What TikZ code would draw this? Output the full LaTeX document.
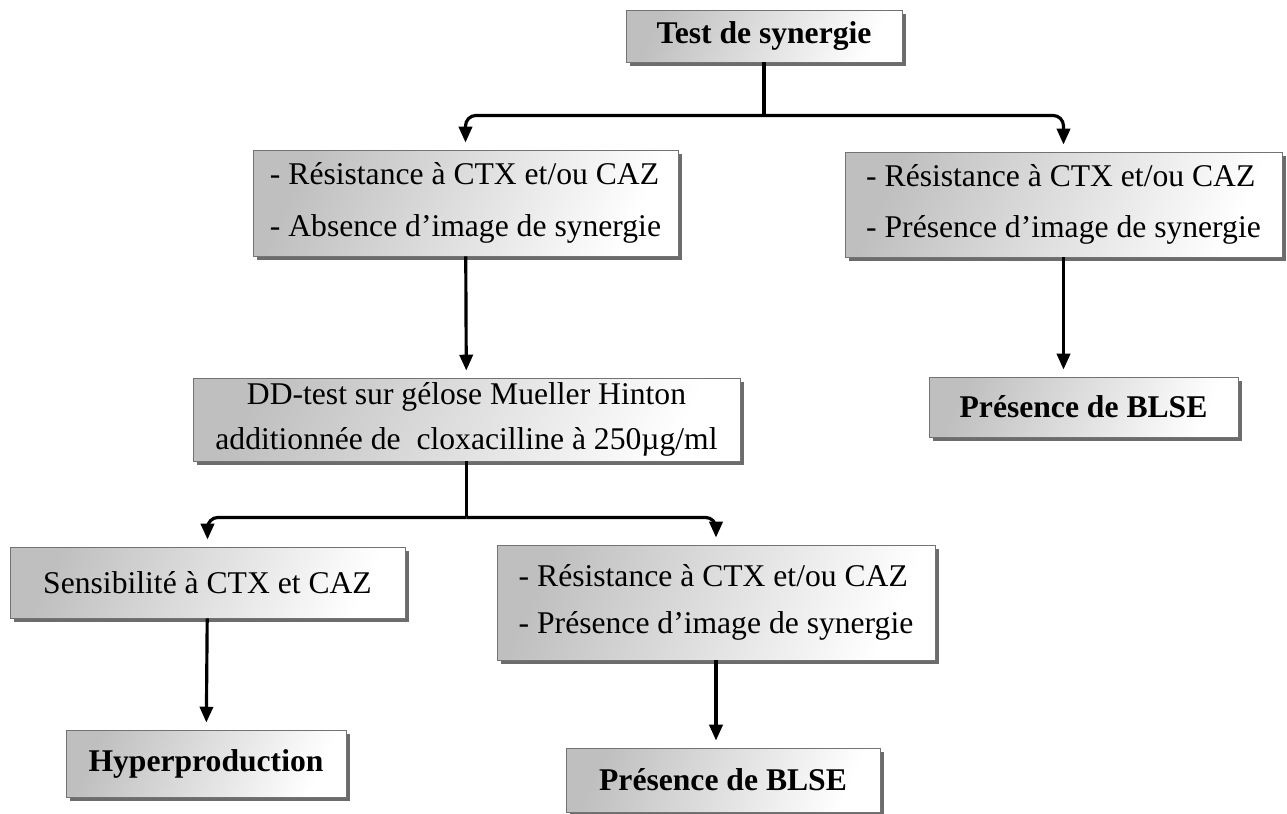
\documentclass[tikz,border=0pt]{standalone}
\usepackage{fontspec}
\setmainfont{Liberation Serif}
\usetikzlibrary{positioning, shadows, arrows.meta, calc}

\begin{document}
\begin{tikzpicture}[
    x=0.02cm, y=-0.02cm,
    % Styles
    box/.style={
        rectangle,
        draw=gray!90!black,
        line width=0.5pt,
        left color=gray!50,
        right color=white,
        shading angle=65,
        drop shadow={shadow xshift=2.2pt, shadow yshift=-2.2pt, fill=gray!85!black, opacity=1},
        inner sep=0pt,
        font=\fontsize{18}{22}\selectfont
    },
    title/.style={
        box,
        font=\fontsize{18}{22}\selectfont\bfseries
    },
    arrow/.style={
        -{Triangle[width=7.5pt, length=9pt]},
        line width=1.8pt,
        rounded corners=6pt,
        shorten >=4pt
    },
    line/.style={
        line width=1.8pt
    }
]
    \useasboundingbox (0,0) rectangle (1287,814);

    % Boxes
    \node[title, minimum width=5.52cm, minimum height=1.04cm] (test) at (764,36) {Test de synergie};
    \node[box, align=left, minimum width=8.5cm, minimum height=2.12cm,
          font=\fontsize{18}{29.5}\selectfont] (absence) at (465.5,203)
          {- Résistance à CTX et/ou CAZ\\- Absence d’image de synergie};
    \node[box, align=left, minimum width=8.74cm, minimum height=2.1cm,
          font=\fontsize{18}{29.5}\selectfont] (presence) at (1063.5,204.5)
          {- Résistance à CTX et/ou CAZ\\- Présence d’image de synergie};
    \node[box, align=center, minimum width=10.94cm, minimum height=1.66cm,
          font=\fontsize{18}{26}\selectfont] (ddtest) at (466.5,419.5)
          {DD-test sur gélose Mueller Hinton\\additionnée de\ \ cloxacilline à 250µg/ml};
    \node[title, minimum width=6.18cm, minimum height=1.2cm] (blse) at (1083.5,407) {Présence de BLSE};
    \node[box, minimum width=7.9cm, minimum height=1.42cm] (sensible) at (207.5,582.5) {Sensibilité à CTX et CAZ};
    \node[box, align=left, minimum width=8.76cm, minimum height=2.3cm,
          font=\fontsize{18}{26.6}\selectfont] (synergie) at (716,602.5)
          {- Résistance à CTX et/ou CAZ\\- Présence d’image de synergie};
    \node[title, minimum width=5.6cm, minimum height=1.34cm] (hyper) at (206,763.5) {Hyperproduction};
    \node[title, minimum width=6.28cm, minimum height=1.28cm] (blse2) at (723,780) {Présence de BLSE};

    % Paths
    \coordinate (split1) at ($(test.south)+(0,53)$);
    \coordinate (split2) at ($(ddtest.south)+(0,56)$);
    \draw[line] (test.south) -- (split1);
    \draw[arrow] (split1) -| (absence.north);
    \draw[arrow] (split1) -| (presence.north);
    \draw[arrow] (absence) -- (ddtest);
    \draw[arrow] (presence.south) -- (presence.south |- blse.north);
    \draw[line] (ddtest.south) -- (split2);
    \draw[arrow] (split2) -| (sensible.north);
    \draw[arrow] (split2) -| (synergie.north);
    \draw[arrow] (sensible) -- (hyper);
    \draw[arrow] (synergie.south) -- (synergie.south |- blse2.north);
\end{tikzpicture}
\end{document}
